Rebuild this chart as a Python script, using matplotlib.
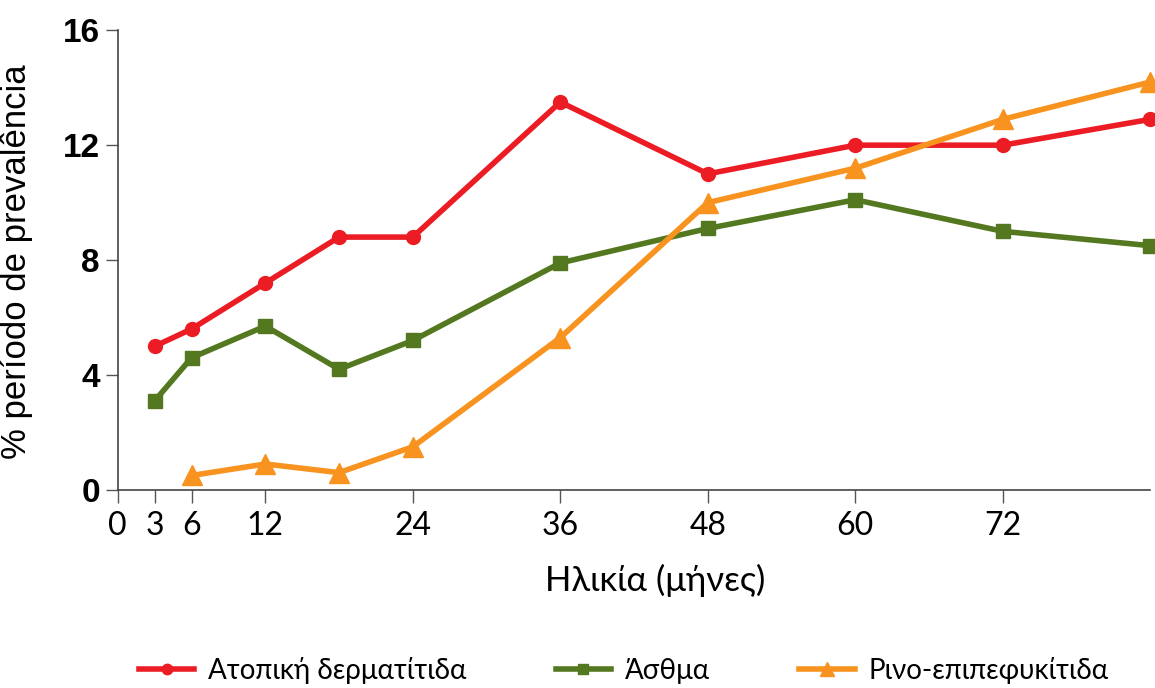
import matplotlib
matplotlib.use("Agg")
import matplotlib.pyplot as plt
from matplotlib import font_manager

# age in months and period prevalence (%) per condition
months = [3, 6, 12, 18, 24, 36, 48, 60, 72, 84]
atopic = [5.0, 5.6, 7.2, 8.8, 8.8, 13.5, 11.0, 12.0, 12.0, 12.9]
asthma = [3.1, 4.6, 5.7, 4.2, 5.2, 7.9, 9.1, 10.1, 9.0, 8.5]
rhino_months = [6, 12, 18, 24, 36, 48, 60, 72, 84]
rhino = [0.5, 0.9, 0.6, 1.5, 5.3, 10.0, 11.2, 12.9, 14.2]

xticks = [0, 3, 6, 12, 24, 36, 48, 60, 72]
yticks = [0, 4, 8, 12, 16]

names = ["Ατοπική δερματίτιδα", "Άσθμα", "Ρινο-επιπεφυκίτιδα"]

installed = {f.name for f in font_manager.fontManager.ttflist}
narrow = [f for f in ["Liberation Sans Narrow", "Lato", "Open Sans"] if f in installed]
narrow = narrow + ["DejaVu Sans"]

fig = plt.figure(figsize=(11.55, 6.88), dpi=100)
ax = fig.add_axes([0.102, 0.288, 0.894, 0.668])

ax.plot(months, atopic, color="#ec1c24", lw=4, marker="o", ms=10,
        clip_on=False, label=names[0], zorder=3)
ax.plot(months, asthma, color="#53781f", lw=4, marker="s", ms=10,
        clip_on=False, label=names[1], zorder=3)
ax.plot(rhino_months, rhino, color="#f7931e", lw=4, marker="^", ms=14,
        clip_on=False, label=names[2], zorder=3)

ax.set_xlim(0, 84)
ax.set_ylim(0, 16)
ax.set_xticks(xticks)
ax.set_yticks(yticks)
ax.set_xticklabels([str(t) for t in xticks], fontsize=23, family=narrow)
ax.set_yticklabels([str(t) for t in yticks], fontsize=24, fontweight="bold",
                   family="Liberation Sans")
ax.tick_params(axis="x", length=9, width=1, color="#555555", pad=6)
ax.tick_params(axis="y", length=9, width=1, color="#555555", pad=4)

for s in ["top", "right"]:
    ax.spines[s].set_visible(False)
for s in ["left", "bottom"]:
    ax.spines[s].set_color("#444444")
    ax.spines[s].set_linewidth(1.2)

ax.set_xlabel("Ηλικία (μήνες)", fontsize=25, family=narrow)
ax.xaxis.set_label_coords(0.52, -0.16)
ax.set_ylabel("% período de prevalência", fontsize=25, family="Liberation Sans")
ax.yaxis.set_label_coords(-0.082, 0.497)

fig.legend(loc="lower center", bbox_to_anchor=(0.54, -0.03), ncol=3,
           frameon=False, prop={"family": narrow, "size": 20},
           handlelength=2.0, handletextpad=0.5, columnspacing=3.2,
           markerscale=0.75)

fig.savefig("out.png", dpi=100)
